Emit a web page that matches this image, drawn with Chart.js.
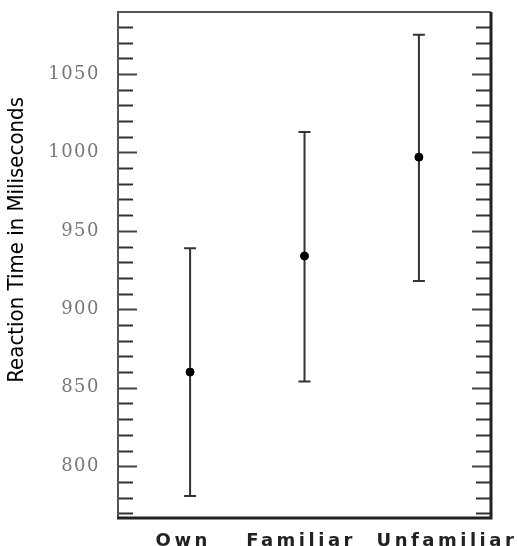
<!DOCTYPE html>
<html>
<head>
<meta charset="utf-8">
<script src="https://cdn.jsdelivr.net/npm/chart.js@4"></script>
<style>
  html, body { margin: 0; padding: 0; background: #fff; }
  #wrap { width: 517px; height: 546px; }
</style>
</head>
<body>
<div id="wrap"><canvas id="chart" width="517" height="546"></canvas></div>
<script>
const categories = ['Own', 'Familiar', 'Unfamiliar'];
const means = [860, 934, 997];
const lower = [781, 854, 918];
const upper = [939, 1013, 1075];
// where the category names sit along the x axis (they are not centred on the bars)
const labelPos = [-0.06, 0.97, 2.245];

// error bars: vertical line plus short caps
const errorBars = {
  id: 'errorBars',
  beforeDatasetsDraw(chart) {
    const { ctx, scales: { x, y } } = chart;
    ctx.save();
    ctx.strokeStyle = '#333';
    ctx.lineWidth = 2;
    means.forEach((m, i) => {
      const px = x.getPixelForValue(i);
      const top = y.getPixelForValue(upper[i]);
      const bot = y.getPixelForValue(lower[i]);
      ctx.beginPath();
      ctx.moveTo(px, top);
      ctx.lineTo(px, bot);
      ctx.moveTo(px - 6, top);
      ctx.lineTo(px + 6, top);
      ctx.moveTo(px - 6, bot);
      ctx.lineTo(px + 6, bot);
      ctx.stroke();
    });
    ctx.restore();
  }
};

// box frame and inward tick marks on both sides
const frame = {
  id: 'frame',
  afterDraw(chart) {
    const { ctx, chartArea: a, scales: { y } } = chart;
    ctx.save();
    ctx.lineWidth = 2;
    y.ticks.forEach(t => {
      const py = Math.round(y.getPixelForValue(t.value)) + 0.5;
      const major = t.value % 50 === 0;
      const len = major ? 19 : 15;
      ctx.strokeStyle = major ? '#444' : '#333';
      ctx.beginPath();
      ctx.moveTo(a.left, py);
      ctx.lineTo(a.left + len, py);
      ctx.moveTo(a.right, py);
      ctx.lineTo(a.right - len, py);
      ctx.stroke();
    });
    ctx.strokeStyle = '#555';
    ctx.lineWidth = 2;
    ctx.beginPath();
    ctx.moveTo(a.left, a.bottom);
    ctx.lineTo(a.left, a.top);
    ctx.lineTo(a.right, a.top);
    ctx.stroke();
    ctx.strokeStyle = '#222';
    ctx.lineWidth = 3;
    ctx.beginPath();
    ctx.moveTo(a.right, a.top);
    ctx.lineTo(a.right, a.bottom);
    ctx.lineTo(a.left - 1, a.bottom);
    ctx.stroke();
    ctx.restore();
  }
};

// wide letter spacing for the tick labels
const spacing = {
  id: 'spacing',
  afterUpdate(chart) {
    [['x', '3.5px'], ['y', '1.5px']].forEach(([id, sp]) => {
      const s = chart.scales[id];
      if (s._spaced) return;
      const orig = s.drawLabels;
      s.drawLabels = function (area) {
        const prev = this.ctx.letterSpacing;
        this.ctx.letterSpacing = sp;
        orig.call(this, area);
        this.ctx.letterSpacing = prev;
      };
      s._spaced = true;
    });
  }
};

new Chart(document.getElementById('chart').getContext('2d'), {
  type: 'scatter',
  data: {
    datasets: [{
      data: means.map((m, i) => ({ x: i, y: m })),
      backgroundColor: '#000',
      borderColor: '#000',
      pointRadius: 4,
      pointHoverRadius: 4
    }]
  },
  options: {
    responsive: false,
    animation: false,
    layout: { padding: { top: 12, right: 26, left: 0, bottom: 0 } },
    plugins: {
      legend: { display: false },
      tooltip: { enabled: false }
    },
    scales: {
      x: {
        type: 'linear',
        min: -0.63,
        max: 2.63,
        grid: { display: false, drawTicks: false },
        border: { display: false },
        afterBuildTicks: s => { s.ticks = labelPos.map(v => ({ value: v })); },
        afterFit: s => { s.height = 28; s.paddingLeft = 0; s.paddingRight = 0; },
        ticks: {
          padding: 13,
          color: '#222',
          font: { family: 'DejaVu Sans', size: 18, weight: 'bold' },
          maxRotation: 0,
          autoSkip: false,
          callback: (v, i) => categories[i]
        }
      },
      y: {
        min: 767,
        max: 1089.5,
        grid: { display: false, drawTicks: false },
        border: { display: false },
        afterFit: s => { s.width = 118; s.paddingTop = 0; s.paddingBottom = 0; },
        ticks: {
          stepSize: 10,
          includeBounds: false,
          padding: 18,
          color: '#777',
          font: { family: 'DejaVu Serif', size: 18 },
          autoSkip: false,
          callback: v => (v % 50 === 0 ? String(v) : '')
        },
        title: {
          display: true,
          // leading spaces nudge the rotated title up, as in the original
          text: '\u00a0\u00a0\u00a0\u00a0\u00a0\u00a0\u00a0\u00a0Reaction Time in Miliseconds',
          color: '#000',
          padding: { top: 4, bottom: 0 },
          font: { family: "'Liberation Sans Narrow', 'DejaVu Sans Condensed', sans-serif", size: 22 }
        }
      }
    }
  },
  plugins: [errorBars, frame, spacing]
});
</script>
</body>
</html>
